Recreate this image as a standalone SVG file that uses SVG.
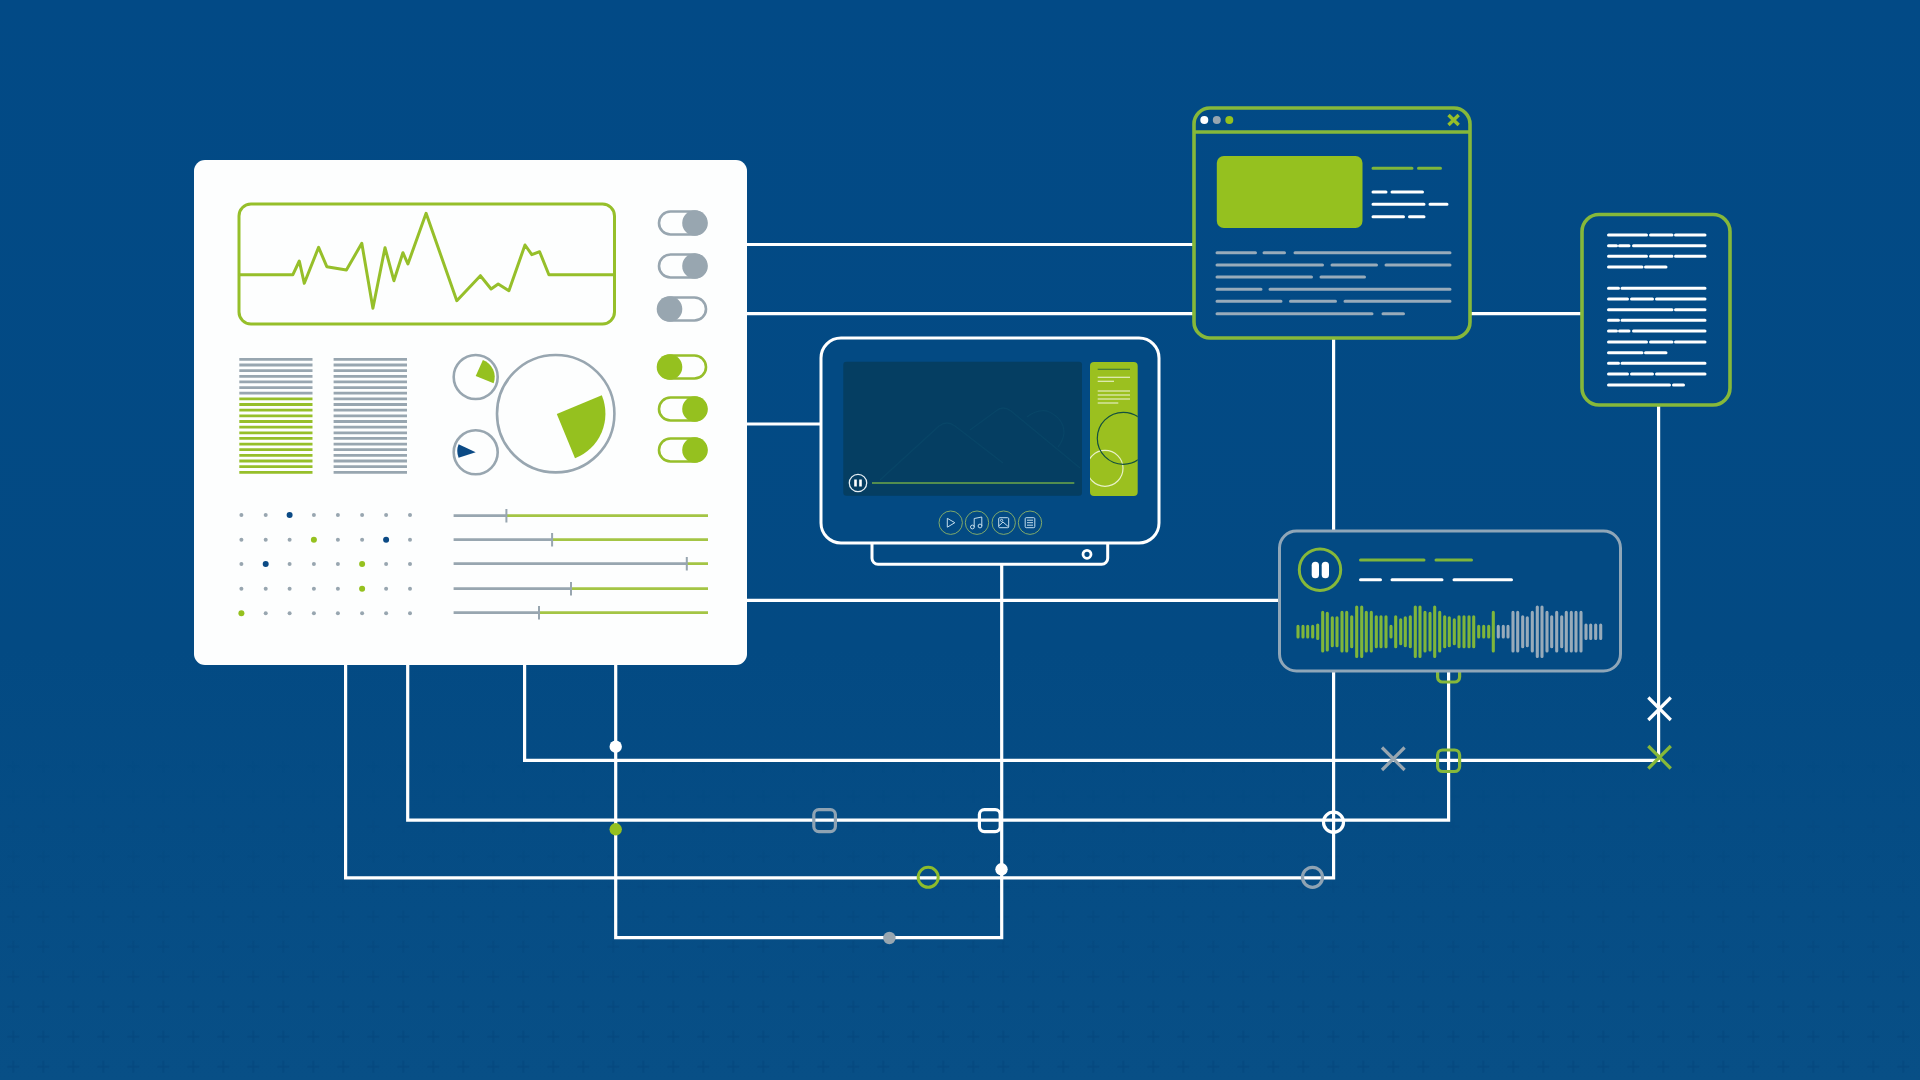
<svg xmlns="http://www.w3.org/2000/svg" width="1920" height="1080" viewBox="0 0 1920 1080">
<defs>
<style>
.wire{fill:none;stroke:#fff;stroke-width:3.2;stroke-linejoin:miter}
.g{fill:none;stroke:#96bf2a;stroke-width:3;stroke-linecap:round;stroke-linejoin:round}
.gl{fill:none;stroke:#86b83a;stroke-width:3.6}
.gfill{fill:#95c11f}
.grey{fill:#98a6b0}
.navy{fill:#0b4a85}
.tog{fill:none;stroke-width:2.6}
.tg{stroke:#98a6b0}
.tl{stroke:#96bf2a}
.ln{fill:none;stroke-width:3;stroke-linecap:round}
.lw{stroke:#fff}
.lb{stroke:#98abba}
.lgd{stroke:#7fb63b}
.ring{fill:none;stroke:#98a6b0;stroke-width:2.6}
.ico{fill:none;stroke:#7fa96a;stroke-width:1}
.icl{fill:none;stroke:#c3dcec;stroke-width:1;stroke-linejoin:round}
.bar{fill:none;stroke-width:3.1;stroke-linecap:round}
</style>
<linearGradient id="bgGrad" x1="0" y1="0" x2="0" y2="1">
<stop offset="0" stop-color="#024a86"/><stop offset="0.6" stop-color="#034a83"/><stop offset="1" stop-color="#084f86"/>
</linearGradient>
<linearGradient id="fadeGrad" gradientUnits="userSpaceOnUse" x1="0" y1="760" x2="0" y2="1000">
<stop offset="0" stop-color="#000"/><stop offset="1" stop-color="#fff"/>
</linearGradient>
<mask id="fade" maskUnits="userSpaceOnUse" x="0" y="0" width="1920" height="1080"><rect width="1920" height="1080" fill="url(#fadeGrad)"/></mask>
<pattern id="plus" width="30" height="30" patternUnits="userSpaceOnUse" patternTransform="translate(-1.7 1.7)">
<path d="M15 9V21M9 15H21" stroke="#04467c" stroke-width="1.6" fill="none" opacity="0.7"/>
</pattern>
<clipPath id="sideClip"><rect x="1090" y="362" width="47.7" height="134" rx="4"/></clipPath>
</defs>

<rect id="background" width="1920" height="1080" fill="url(#bgGrad)"/>
<rect id="gridmarks" width="1920" height="1080" fill="url(#plus)" mask="url(#fade)"/>

<g id="connectors">
<path class="wire" d="M747 244.5H1193"/>
<path class="wire" d="M747 313.7H1193M1470 313.7H1582"/>
<path class="wire" d="M747 424H821"/>
<path class="wire" d="M747 600.4H1279"/>
<path class="wire" d="M1333.6 338V877.8H345.6V664"/>
<path class="wire" d="M407.7 664V820.2H1448.6V670"/>
<path class="wire" d="M524.6 664V760.4H1658.6V405"/>
<path class="wire" d="M615.7 664V937.6H1001.7V563"/>
</g>

<g id="junctions">
<circle cx="615.7" cy="746.7" r="6.2" fill="#fff"/>
<circle cx="615.7" cy="829.3" r="6.2" fill="#95c11f"/>
<rect x="813.8" y="809.6" width="21.6" height="22" rx="5" fill="none" stroke="#8fa3b3" stroke-width="3.2"/>
<rect x="979.4" y="809.6" width="20.8" height="22" rx="5" fill="none" stroke="#fff" stroke-width="3.2"/>
<circle cx="928.2" cy="877.3" r="10" fill="none" stroke="#8dbc2c" stroke-width="3"/>
<circle cx="1001.5" cy="869.3" r="6.2" fill="#fff"/>
<circle cx="889.4" cy="938" r="6.2" fill="#98a6b0"/>
<circle cx="1333.5" cy="822.2" r="10" fill="none" stroke="#fff" stroke-width="3.2"/>
<circle cx="1312.5" cy="877.3" r="10" fill="none" stroke="#8fa3b3" stroke-width="3.2"/>
<rect x="1437.6" y="660.5" width="22" height="21.5" rx="5" fill="none" stroke="#86b83a" stroke-width="3.2"/>
<rect x="1437.6" y="750" width="22" height="21.5" rx="5" fill="none" stroke="#86b83a" stroke-width="3.2"/>
<path d="M1382 747.5L1404.6 770M1404.6 747.5L1382 770" fill="none" stroke="#98a6b0" stroke-width="3.2"/>
<path d="M1648.3 697.5L1670.8 720M1670.8 697.5L1648.3 720" fill="none" stroke="#fff" stroke-width="3.2"/>
<path d="M1648.3 746L1670.8 768.5M1670.8 746L1648.3 768.5" fill="none" stroke="#86b83a" stroke-width="3.2"/>
</g>

<g id="dashboard">
<rect x="194" y="160" width="553" height="505" rx="11" fill="#fdfefe"/>
<g id="chart">
<rect x="239" y="204" width="375.5" height="120" rx="12" class="g"/>
<path class="g" d="M240 274.7H292.9L299.3 261L304.3 283.3L318.6 247.3L326.8 266.7L346.4 270L361.8 243.3L372.9 308.3L385 247.7L393.9 280.7L402.9 252.7L407.9 264L426.1 213.3L456.8 300.7L480.4 275.7L491.1 289L498.2 284L508.9 290.7L525 245L531.8 254.7L539.6 251.7L548.9 274.7H613.9"/>
</g>
<g id="toggles">
<rect class="tog tg" x="659" y="211.5" width="47" height="23" rx="11.5"/><circle class="grey" cx="695" cy="223" r="12.8"/>
<rect class="tog tg" x="659" y="254.5" width="47" height="23" rx="11.5"/><circle class="grey" cx="695" cy="266" r="12.8"/>
<rect class="tog tg" x="659" y="297.5" width="47" height="23" rx="11.5"/><circle class="grey" cx="669.5" cy="309" r="12.8"/>
<rect class="tog tl" x="659" y="355.5" width="47" height="23" rx="11.5"/><circle class="gfill" cx="669.5" cy="367" r="12.8"/>
<rect class="tog tl" x="659" y="397.5" width="47" height="23" rx="11.5"/><circle class="gfill" cx="695" cy="409" r="12.8"/>
<rect class="tog tl" x="659" y="438.5" width="47" height="23" rx="11.5"/><circle class="gfill" cx="695" cy="450" r="12.8"/>
</g>
<g id="bars" fill="none" stroke-width="2.8">
<path stroke="#98a6b0" d="M239.3 359.3H312.5M239.3 365H312.5M239.3 370.6H312.5M239.3 376.3H312.5M239.3 381.9H312.5M239.3 387.6H312.5M239.3 393.2H312.5"/>
<path stroke="#96bf2a" d="M239.3 398.9H312.5M239.3 404.5H312.5M239.3 410.2H312.5M239.3 415.8H312.5M239.3 421.5H312.5M239.3 427.1H312.5M239.3 432.8H312.5M239.3 438.4H312.5M239.3 444.1H312.5M239.3 449.7H312.5M239.3 455.4H312.5M239.3 461H312.5M239.3 466.7H312.5M239.3 472.3H312.5"/>
<path stroke="#98a6b0" d="M333.6 359.3H407M333.6 365H407M333.6 370.6H407M333.6 376.3H407M333.6 381.9H407M333.6 387.6H407M333.6 393.2H407M333.6 398.9H407M333.6 404.5H407M333.6 410.2H407M333.6 415.8H407M333.6 421.5H407M333.6 427.1H407M333.6 432.8H407M333.6 438.4H407M333.6 444.1H407M333.6 449.7H407M333.6 455.4H407M333.6 461H407M333.6 466.7H407M333.6 472.3H407"/>
</g>
<g id="gauges">
<circle class="ring" cx="475.7" cy="377" r="22"/>
<path class="gfill" d="M475.7 376L482.9 360A18 18 0 0 1 493.6 383.3Z"/>
<circle class="ring" cx="475.7" cy="452.3" r="22"/>
<path class="navy" d="M458.6 444.3L475.7 452.3L458.6 457.7A18 18 0 0 1 458.6 444.3Z"/>
<circle class="ring" cx="555.7" cy="413.7" r="58.7"/>
<path class="gfill" d="M556.8 414L601.8 395.3A48 48 0 0 1 575 458.3Z"/>
</g>
<g id="dots">
<g class="grey">
<circle cx="241.4" cy="515" r="2"/><circle cx="265.7" cy="515" r="2"/><circle cx="313.9" cy="515" r="2"/><circle cx="337.9" cy="515" r="2"/><circle cx="362.1" cy="515" r="2"/><circle cx="386.1" cy="515" r="2"/><circle cx="410" cy="515" r="2"/>
<circle cx="241.4" cy="539.7" r="2"/><circle cx="265.7" cy="539.7" r="2"/><circle cx="289.6" cy="539.7" r="2"/><circle cx="337.9" cy="539.7" r="2"/><circle cx="362.1" cy="539.7" r="2"/><circle cx="410" cy="539.7" r="2"/>
<circle cx="241.4" cy="564" r="2"/><circle cx="289.6" cy="564" r="2"/><circle cx="313.9" cy="564" r="2"/><circle cx="337.9" cy="564" r="2"/><circle cx="386.1" cy="564" r="2"/><circle cx="410" cy="564" r="2"/>
<circle cx="241.4" cy="588.7" r="2"/><circle cx="265.7" cy="588.7" r="2"/><circle cx="289.6" cy="588.7" r="2"/><circle cx="313.9" cy="588.7" r="2"/><circle cx="337.9" cy="588.7" r="2"/><circle cx="386.1" cy="588.7" r="2"/><circle cx="410" cy="588.7" r="2"/>
<circle cx="265.7" cy="613.3" r="2"/><circle cx="289.6" cy="613.3" r="2"/><circle cx="313.9" cy="613.3" r="2"/><circle cx="337.9" cy="613.3" r="2"/><circle cx="362.1" cy="613.3" r="2"/><circle cx="386.1" cy="613.3" r="2"/><circle cx="410" cy="613.3" r="2"/>
</g>
<circle class="navy" cx="289.6" cy="515" r="3"/><circle class="navy" cx="386.1" cy="539.7" r="3"/><circle class="navy" cx="265.7" cy="564" r="3"/>
<g class="gfill"><circle cx="313.9" cy="539.7" r="3"/><circle cx="362.1" cy="564" r="3"/><circle cx="362.1" cy="588.7" r="3"/><circle cx="241.4" cy="613.3" r="3"/></g>
</g>
<g id="sliders" fill="none" stroke-width="2.8">
<path stroke="#a4c545" d="M506.4 515.7H708M552.1 539.7H708M686.8 563.7H708M571 588.7H708M539 612.7H708"/>
<path stroke="#98a6b0" d="M453.6 515.7H506.4M453.6 539.7H552.1M453.6 563.7H686.8M453.6 588.7H571M453.6 612.7H539"/>
<path stroke="#98a6b0" stroke-width="2" d="M506.4 509V522.5M552.1 533V546.5M686.8 557V570.5M571 582V595.5M539 606V619.5"/>
</g>
</g>

<g id="monitor">
<path d="M872 543.5V558.3A6 6 0 0 0 878 564.3H1101.7A6 6 0 0 0 1107.7 558.3V543.5" fill="#034a83" stroke="#fff" stroke-width="3"/>
<circle cx="1087" cy="554.3" r="4" fill="none" stroke="#fff" stroke-width="2.8"/>
<rect x="821" y="338" width="338" height="205" rx="20" fill="#034a83" stroke="#fff" stroke-width="3"/>
<rect x="843.3" y="361.7" width="238.7" height="134" rx="3" fill="#053e62"/>
<g fill="none" stroke="#084567" stroke-width="1.3" stroke-linejoin="round">
<path d="M880 480L939 426Q947 420 955 426L1003 463"/>
<path d="M970 430L996 411Q1003 405 1011 411L1080 468"/>
<path d="M1027 417Q1037 409 1047 411Q1064 418 1064 433Q1063 441 1058 447"/>
</g>
<circle cx="858" cy="483" r="8.7" fill="none" stroke="#e6eef3" stroke-width="1.3"/>
<path d="M855.5 479.5V486.5M860.5 479.5V486.5" stroke="#fff" stroke-width="2.6" fill="none"/>
<path d="M872 483H1074.3" stroke="#6ea84a" stroke-width="1.3" fill="none"/>
<rect x="1090" y="362" width="47.7" height="134" rx="4" fill="#9bc01f"/>
<g fill="none" stroke-width="1.1">
<path stroke="#2f6a3c" d="M1097.7 369.3H1130"/>
<path stroke="#f2f6dd" d="M1097.7 377.3H1130M1097.7 381.3H1114M1097.7 391H1130M1097.7 395H1130M1097.7 399H1130M1097.7 403H1118.3"/>
</g>
<g clip-path="url(#sideClip)" fill="none" stroke-width="1.2">
<circle cx="1105" cy="468.3" r="18" stroke="#e8f1c8"/>
<circle cx="1123.3" cy="438.3" r="26" stroke="#14503f"/>
</g>
<g id="mediaicons">
<circle class="ico" cx="950.7" cy="522.7" r="11.7"/>
<path class="icl" d="M947.3 518.3L954.8 522.7L947.3 527.2Z"/>
<circle class="ico" cx="977" cy="522.7" r="11.7"/>
<path class="icl" d="M974.2 527V518.5L981.8 517V526"/>
<circle class="icl" cx="972.4" cy="527" r="1.9"/><circle class="icl" cx="980" cy="526" r="1.9"/>
<circle class="ico" cx="1003.7" cy="522.7" r="11.7"/>
<rect class="icl" x="998.7" y="517.7" width="10" height="10" rx="1"/>
<path class="icl" d="M998.7 526L1003 522L1008.7 527"/><circle class="icl" cx="1001.6" cy="520.4" r="1.1"/>
<circle class="ico" cx="1030" cy="522.7" r="11.7"/>
<rect class="icl" x="1025.2" y="517.7" width="9.6" height="10" rx="1"/>
<path class="icl" d="M1027 520.2H1033M1027 522.7H1033M1027 525.2H1033"/>
</g>
</g>

<g id="browser">
<rect x="1194" y="108" width="276" height="230" rx="16" fill="#034a83" class="gl"/>
<path class="gl" d="M1193 132H1471"/>
<circle cx="1204.3" cy="120" r="4" fill="#fff"/><circle cx="1216.8" cy="120" r="4" fill="#98a6b0"/><circle cx="1229.3" cy="120" r="4" fill="#95c11f"/>
<path d="M1448.5 115L1458.7 125M1458.7 115L1448.5 125" fill="none" stroke="#96bf2a" stroke-width="3.4"/>
<rect x="1216.8" y="156" width="145.7" height="72" rx="7" fill="#95c11f"/>
<path class="ln lgd" d="M1373 168.3H1412M1418.5 168.3H1440.5"/>
<path class="ln lw" d="M1373 192H1386M1392 192H1422.5M1373 204.3H1424M1430 204.3H1447M1373 216.7H1403.5M1409.5 216.7H1424"/>
<path class="ln lb" d="M1217 252.7H1255.5M1264 252.7H1284.5M1295 252.7H1450M1217 265H1322.5M1332 265H1376.5M1386 265H1450M1217 277H1311.5M1321 277H1364.5M1217 289.3H1261M1270 289.3H1450M1217 301.3H1281M1290.5 301.3H1335.5M1345 301.3H1450M1217 313.7H1372M1383 313.7H1403.5"/>
</g>

<g id="document">
<rect x="1582" y="214.5" width="148" height="190.5" rx="17" fill="#034a83" class="gl"/>
<path class="ln lw" d="M1608.5 235H1646.5M1650.5 235H1672M1675.5 235H1705M1608.5 245.7H1616.5M1619.5 245.7H1629M1633.5 245.7H1705M1608.5 256.3H1646.5M1650.5 256.3H1672M1675.5 256.3H1705M1608.5 267H1642M1645.5 267H1666"/>
<path class="ln lw" d="M1608.5 288.3H1618.5M1622 288.3H1705M1608.5 299H1627.5M1631.5 299H1652.5M1656.5 299H1705M1608.5 309.7H1672M1675.5 309.7H1705M1608.5 320.3H1618.5M1622 320.3H1705M1608.5 331H1616.5M1619.5 331H1629M1633.5 331H1705M1608.5 342H1646.5M1650.5 342H1672M1675.5 342H1705M1608.5 352.7H1642M1645.5 352.7H1666M1608.5 363.3H1618.5M1622 363.3H1705M1608.5 374H1627.5M1631.5 374H1652.5M1656.5 374H1705M1608.5 385H1669.5M1673.5 385H1683.5"/>
</g>

<g id="audioplayer">
<rect x="1279.5" y="531" width="341" height="140" rx="17" fill="#034a83" stroke="#8fa6b8" stroke-width="3"/>
<circle cx="1320" cy="569.7" r="20.7" fill="none" stroke="#86b83a" stroke-width="3"/>
<rect x="1311.7" y="561.7" width="7.3" height="16.6" rx="3.6" fill="#fff"/><rect x="1321.7" y="561.7" width="7.3" height="16.6" rx="3.6" fill="#fff"/>
<path class="ln lgd" d="M1360.5 560H1424M1436 560H1471.5"/>
<path class="ln lw" d="M1360.5 579.7H1380.5M1392 579.7H1442M1454 579.7H1511.5"/>
<path class="bar lgd" d="M1298 626.4V637M1303 626.4V637M1307.7 626.4V637M1312.7 626.4V637M1317.7 625V638.4M1322.7 612.4V651M1327.3 613.4V650M1332.3 617.7V645.7M1337 617.7V645.7M1342 612.4V651M1346.7 612.4V651M1351.7 616.7V646.7M1356.7 607V656.4M1361.7 607V656.4M1366.3 612.4V651M1371.3 612.4V651M1376.3 616.7V646.7M1381 616.7V646.7M1386 616.7V646.7M1391 626.4V637M1395.7 616.7V646.7M1400.7 619.7V643.7M1405.3 617.7V645.7M1410.3 616.7V646.7M1415.3 607V656.4M1420 607V656.4M1425 612.4V651M1430 613.4V650M1434.7 607V656.4M1439.7 612.4V651M1444.7 616.7V646.7M1449.3 617.7V645.7M1454.3 619.7V643.7M1459 616.7V646.7M1464 616.7V646.7M1469 616.7V646.7M1473.7 616.7V646.7M1478.7 626.4V637M1483.7 626.4V637M1488.7 626.4V637M1493.3 612.4V651"/>
<path class="bar lb" d="M1498.3 626.4V637M1503.3 626.4V637M1508 626.4V637M1513 612.4V651M1517.7 612.4V651M1522.7 616.7V646.7M1527.3 617.7V645.7M1532.3 612.4V651M1537.3 607V656.4M1542 607V656.4M1547 612.4V651M1551.7 616.7V646.7M1556.7 612.4V651M1561.7 616.7V646.7M1566.3 612.4V651M1571.3 612.4V651M1576 612.4V651M1581 612.4V651M1586 625V638.4M1590.7 625V638.4M1595.7 625V638.4M1600.7 625V638.4"/>
</g>
</svg>
